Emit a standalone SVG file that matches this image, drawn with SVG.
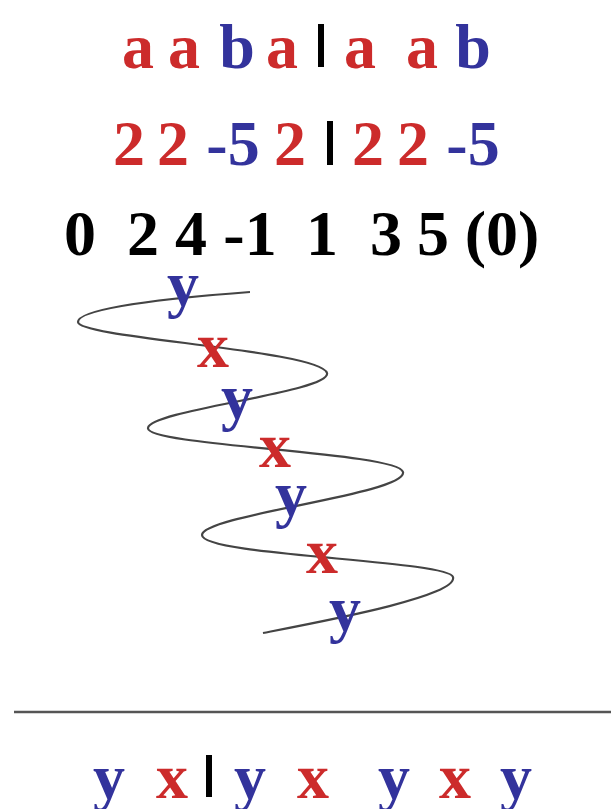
<svg xmlns="http://www.w3.org/2000/svg" width="611" height="809" viewBox="0 0 611 809">
<style>
text{font-family:"Liberation Serif","Times New Roman",serif;font-weight:bold;font-size:64px;text-anchor:middle}
.r{fill:#cc2b2b}.b{fill:#33339c}.k{fill:#000}
.bar{fill:#000}
.wave{fill:none;stroke:#444;stroke-width:2.2}
</style>
<rect width="611" height="809" fill="#fff"/>
<g id="row-letters">
<text class="r" x="138" y="68">a</text>
<text class="r" x="184" y="68">a</text>
<text class="b" x="237" y="68">b</text>
<text class="r" x="282" y="68">a</text>
<rect class="bar" x="318" y="24" width="6" height="43"/>
<text class="r" x="360" y="68">a</text>
<text class="r" x="422" y="68">a</text>
<text class="b" x="473" y="68">b</text>
</g>
<g id="row-weights">
<text class="r" x="129" y="165">2</text>
<text class="r" x="173" y="165">2</text>
<text class="b" x="233" y="165">-5</text>
<text class="r" x="290" y="165">2</text>
<rect class="bar" x="327" y="121" width="6" height="44"/>
<text class="r" x="368" y="165">2</text>
<text class="r" x="413" y="165">2</text>
<text class="b" x="473" y="165">-5</text>
</g>
<g id="row-sums">
<text class="k" x="80" y="255">0</text>
<text class="k" x="143" y="255">2</text>
<text class="k" x="191" y="255">4</text>
<text class="k" x="250" y="255">-1</text>
<text class="k" x="322" y="255">1</text>
<text class="k" x="386" y="255">3</text>
<text class="k" x="433" y="255">5</text>
<text class="k" x="502" y="255">(0)</text>
</g>
<g id="wave">
<path class="wave" d="M250,292 C170,298 78,308 78,322 C78,338 320,350 327,373 C332,392 150,410 148,428 C146,446 398,452 403,472 C408,494 202,515 202,535 C202,556 448,560 453,577 C458,596 330,620 263,633"/>
</g>
<g id="wave-letters">
<text class="b" x="183" y="305">y</text>
<text class="r" x="213" y="367">x</text>
<text class="b" x="237" y="418">y</text>
<text class="r" x="275" y="467">x</text>
<text class="b" x="291" y="515">y</text>
<text class="r" x="322" y="573">x</text>
<text class="b" x="345" y="630">y</text>
</g>
<g id="divider">
<line x1="14" y1="712" x2="611" y2="712" stroke="#555" stroke-width="2.5"/>
</g>
<g id="row-result">
<text class="b" x="109" y="798">y</text>
<text class="r" x="172" y="798">x</text>
<rect class="bar" x="206" y="755" width="6" height="42"/>
<text class="b" x="250" y="798">y</text>
<text class="r" x="313" y="798">x</text>
<text class="b" x="394" y="798">y</text>
<text class="r" x="455" y="798">x</text>
<text class="b" x="516" y="798">y</text>
</g>
</svg>
